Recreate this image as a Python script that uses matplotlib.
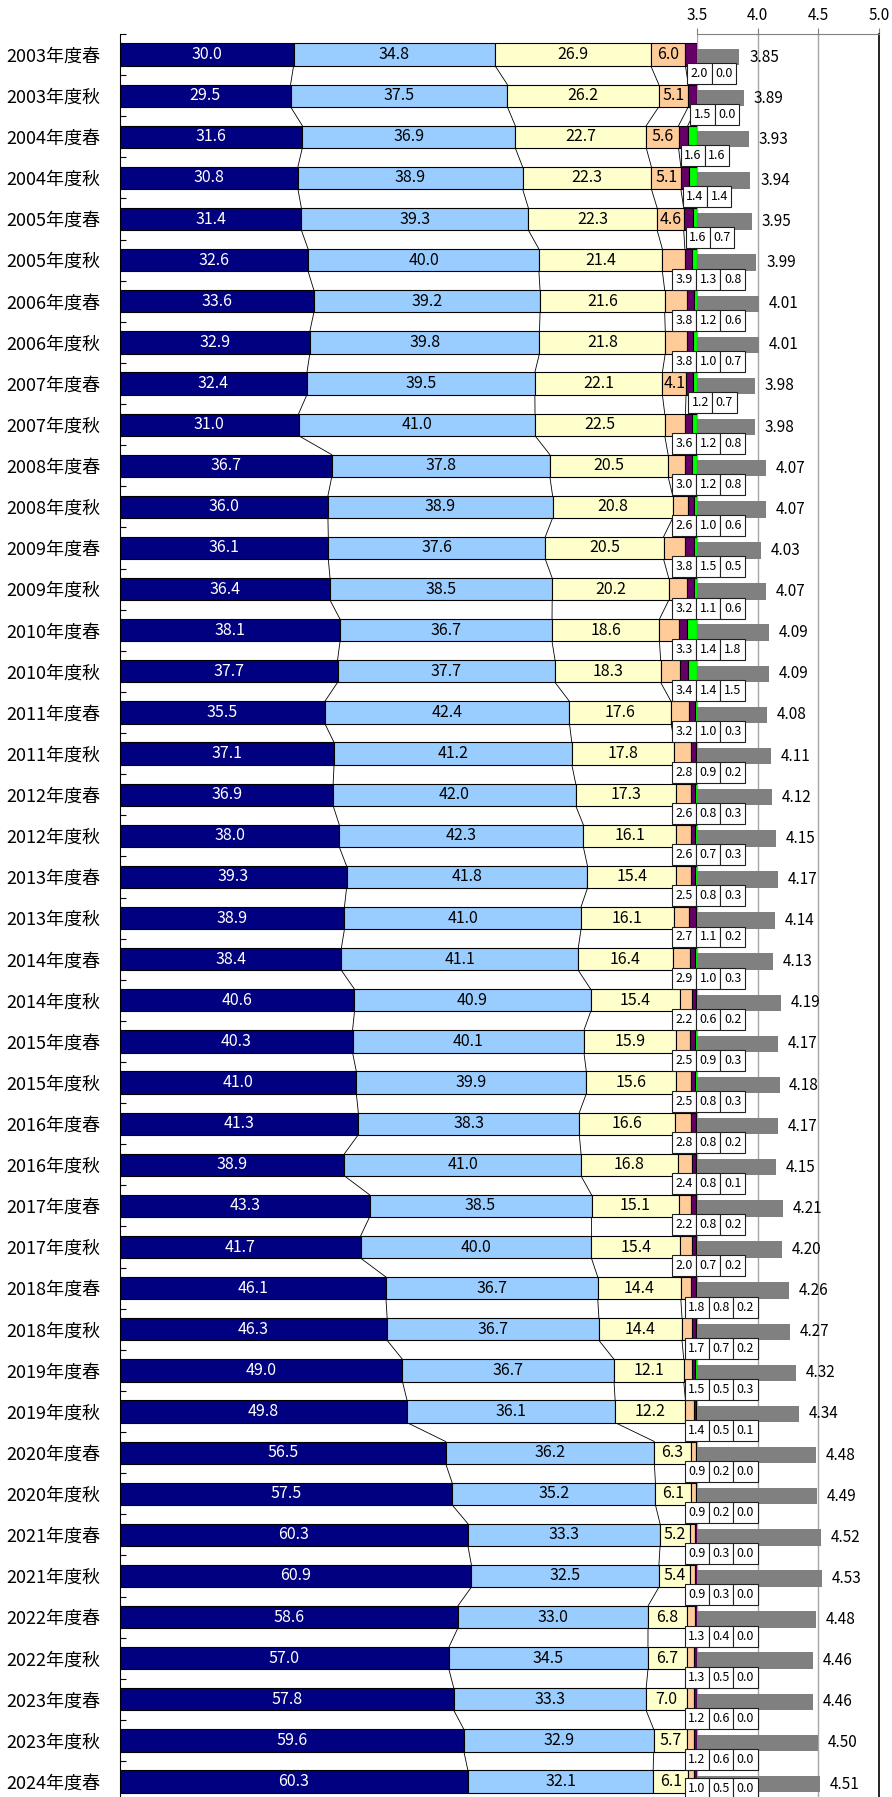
import numpy as np
import matplotlib
matplotlib.use("Agg")
import matplotlib.pyplot as plt
from matplotlib.patches import Rectangle

plt.rcParams['font.family'] = ['Noto Sans CJK JP', 'DejaVu Sans']

periods = [
    "2003年度春", "2003年度秋", "2004年度春", "2004年度秋", "2005年度春", "2005年度秋",
    "2006年度春", "2006年度秋", "2007年度春", "2007年度秋", "2008年度春", "2008年度秋",
    "2009年度春", "2009年度秋", "2010年度春", "2010年度秋", "2011年度春", "2011年度秋",
    "2012年度春", "2012年度秋", "2013年度春", "2013年度秋", "2014年度春", "2014年度秋",
    "2015年度春", "2015年度秋", "2016年度春", "2016年度秋", "2017年度春", "2017年度秋",
    "2018年度春", "2018年度秋", "2019年度春", "2019年度秋", "2020年度春", "2020年度秋",
    "2021年度春", "2021年度秋", "2022年度春", "2022年度秋", "2023年度春", "2023年度秋",
    "2024年度春",
]

# shares (%) per answer category
cat1 = [30.0, 29.5, 31.6, 30.8, 31.4, 32.6, 33.6, 32.9, 32.4, 31.0, 36.7, 36.0, 36.1, 36.4,
        38.1, 37.7, 35.5, 37.1, 36.9, 38.0, 39.3, 38.9, 38.4, 40.6, 40.3, 41.0, 41.3, 38.9,
        43.3, 41.7, 46.1, 46.3, 49.0, 49.8, 56.5, 57.5, 60.3, 60.9, 58.6, 57.0, 57.8, 59.6, 60.3]
cat2 = [34.8, 37.5, 36.9, 38.9, 39.3, 40.0, 39.2, 39.8, 39.5, 41.0, 37.8, 38.9, 37.6, 38.5,
        36.7, 37.7, 42.4, 41.2, 42.0, 42.3, 41.8, 41.0, 41.1, 40.9, 40.1, 39.9, 38.3, 41.0,
        38.5, 40.0, 36.7, 36.7, 36.7, 36.1, 36.2, 35.2, 33.3, 32.5, 33.0, 34.5, 33.3, 32.9, 32.1]
cat3 = [26.9, 26.2, 22.7, 22.3, 22.3, 21.4, 21.6, 21.8, 22.1, 22.5, 20.5, 20.8, 20.5, 20.2,
        18.6, 18.3, 17.6, 17.8, 17.3, 16.1, 15.4, 16.1, 16.4, 15.4, 15.9, 15.6, 16.6, 16.8,
        15.1, 15.4, 14.4, 14.4, 12.1, 12.2, 6.3, 6.1, 5.2, 5.4, 6.8, 6.7, 7.0, 5.7, 6.1]
cat4 = [6.0, 5.1, 5.6, 5.1, 4.6, 3.9, 3.8, 3.8, 4.1, 3.6, 3.0, 2.6, 3.8, 3.2,
        3.3, 3.4, 3.2, 2.8, 2.6, 2.6, 2.5, 2.7, 2.9, 2.2, 2.5, 2.5, 2.8, 2.4,
        2.2, 2.0, 1.8, 1.7, 1.5, 1.4, 0.9, 0.9, 0.9, 0.9, 1.3, 1.3, 1.2, 1.2, 1.0]
cat5 = [2.0, 1.5, 1.6, 1.4, 1.6, 1.3, 1.2, 1.0, 1.2, 1.2, 1.2, 1.0, 1.5, 1.1,
        1.4, 1.4, 1.0, 0.9, 0.8, 0.7, 0.8, 1.1, 1.0, 0.6, 0.9, 0.8, 0.8, 0.8,
        0.8, 0.7, 0.8, 0.7, 0.5, 0.5, 0.2, 0.2, 0.3, 0.3, 0.4, 0.5, 0.6, 0.6, 0.5]
cat6 = [0.0, 0.0, 1.6, 1.4, 0.7, 0.8, 0.6, 0.7, 0.7, 0.8, 0.8, 0.6, 0.5, 0.6,
        1.8, 1.5, 0.3, 0.2, 0.3, 0.3, 0.3, 0.2, 0.3, 0.2, 0.3, 0.3, 0.2, 0.1,
        0.2, 0.2, 0.2, 0.2, 0.3, 0.1, 0.0, 0.0, 0.0, 0.0, 0.0, 0.0, 0.0, 0.0, 0.0]
# average score (secondary axis)
scores = [3.85, 3.89, 3.93, 3.94, 3.95, 3.99, 4.01, 4.01, 3.98, 3.98, 4.07, 4.07, 4.03, 4.07,
          4.09, 4.09, 4.08, 4.11, 4.12, 4.15, 4.17, 4.14, 4.13, 4.19, 4.17, 4.18, 4.17, 4.15,
          4.21, 4.20, 4.26, 4.27, 4.32, 4.34, 4.48, 4.49, 4.52, 4.53, 4.48, 4.46, 4.46, 4.50, 4.51]

score_ticks = [3.5, 4.0, 4.5, 5.0]

colors = ["#000080", "#99ccff", "#ffffcc", "#ffcc99", "#660066", "#00ff00"]

vals = np.array([cat1, cat2, cat3, cat4, cat5, cat6], dtype=float)
n = len(periods)
share = vals / vals.sum(axis=0) * 100      # 100% stacked
edges = np.cumsum(share, axis=0)
lefts = edges - share
y = np.arange(n)

W, H = 892, 1797
fig = plt.figure(figsize=(W / 100, H / 100), dpi=100)
top_px, row_px = 34, 41.12
ax_h = n * row_px
bottom = 1 - (top_px + ax_h) / H
ax2 = fig.add_axes([697 / W, bottom, 182 / W, ax_h / H])
ax = fig.add_axes([120 / W, bottom, 577 / W, ax_h / H])
ax.set_zorder(3)
ax.patch.set_visible(False)

bar_h = 0.54
for k in range(6):
    ax.barh(y, share[k], left=lefts[k], height=bar_h, color=colors[k],
            edgecolor="black", linewidth=0.8, zorder=2)

# series lines between bars
for k in range(5):
    for i in range(n - 1):
        ax.plot([edges[k, i], edges[k, i + 1]], [i + bar_h / 2, i + 1 - bar_h / 2],
                color="black", lw=0.6, zorder=1)

# labels inside the bars
for i in range(n):
    for k in range(4):
        if vals[k, i] >= 4:
            ax.text(lefts[k, i] + share[k, i] / 2, i, f"{vals[k, i]:.1f}",
                    ha="center", va="center", fontsize=11.5,
                    color="white" if k == 0 else "black", zorder=4)

# boxed labels for the small segments
bw, bh, boff = 4.2, 0.51, 0.46
ymax_box = n - 0.5 - bh / 2 - 0.07
for i in range(n):
    items = [k for k in (3, 4, 5) if k >= 4 or vals[3, i] < 4]
    if len(items) == 3:
        x0 = 95.67 if i < 30 else 97.9
    else:
        x0 = lefts[4, i] + 0.35
    yc = min(i + boff, ymax_box)
    for j, k in enumerate(items):
        ax.add_patch(Rectangle((x0 + j * bw, yc - bh / 2), bw, bh,
                               facecolor="white", edgecolor="#202020", lw=0.8,
                               clip_on=False, zorder=5))
        ax.text(x0 + (j + 0.5) * bw, yc, f"{vals[k, i]:.1f}", ha="center",
                va="center", fontsize=9, clip_on=False, zorder=6)

ax.set_xlim(0, 100)
ax.set_ylim(n - 0.5, -0.5)
ax.set_xticks([])
ax.set_yticks(y)
ax.set_yticklabels(periods, fontsize=13)
ax.set_yticks(np.arange(-0.5, n, 1), minor=True)
ax.tick_params(axis="y", which="major", length=0, pad=14)
ax.tick_params(axis="y", which="minor", direction="in", length=4, width=0.8)
for s in ["top", "right", "bottom"]:
    ax.spines[s].set_visible(False)
ax.spines["left"].set_linewidth(0.8)

# average score bars
sc = np.array(scores)
ax2.barh(y + 0.06, sc - 3.5, left=3.5, height=0.40, color="#808080", zorder=2)
for i, s in enumerate(scores):
    ax2.text(s + 0.08, i + 0.06, f"{s:.2f}", ha="left", va="center",
             fontsize=11, clip_on=False, zorder=3)

ax2.set_xlim(3.5, 5.0)
ax2.set_ylim(n - 0.5, -0.5)
ax2.set_yticks([])
ax2.xaxis.tick_top()
ax2.set_xticks(score_ticks)
ax2.set_xticklabels([f"{t:.1f}" for t in score_ticks])
ax2.tick_params(axis="x", direction="out", length=4, labelsize=11, pad=3, color="#808080")
ax2.xaxis.grid(True, color="#a6a6a6", lw=1)
ax2.set_axisbelow(True)
ax2.spines["left"].set_visible(False)
ax2.spines["bottom"].set_visible(False)
ax2.spines["top"].set_color("#808080")
ax2.spines["right"].set_color("black")
ax2.spines["right"].set_linewidth(1.2)

fig.savefig("out.png", dpi=100)
